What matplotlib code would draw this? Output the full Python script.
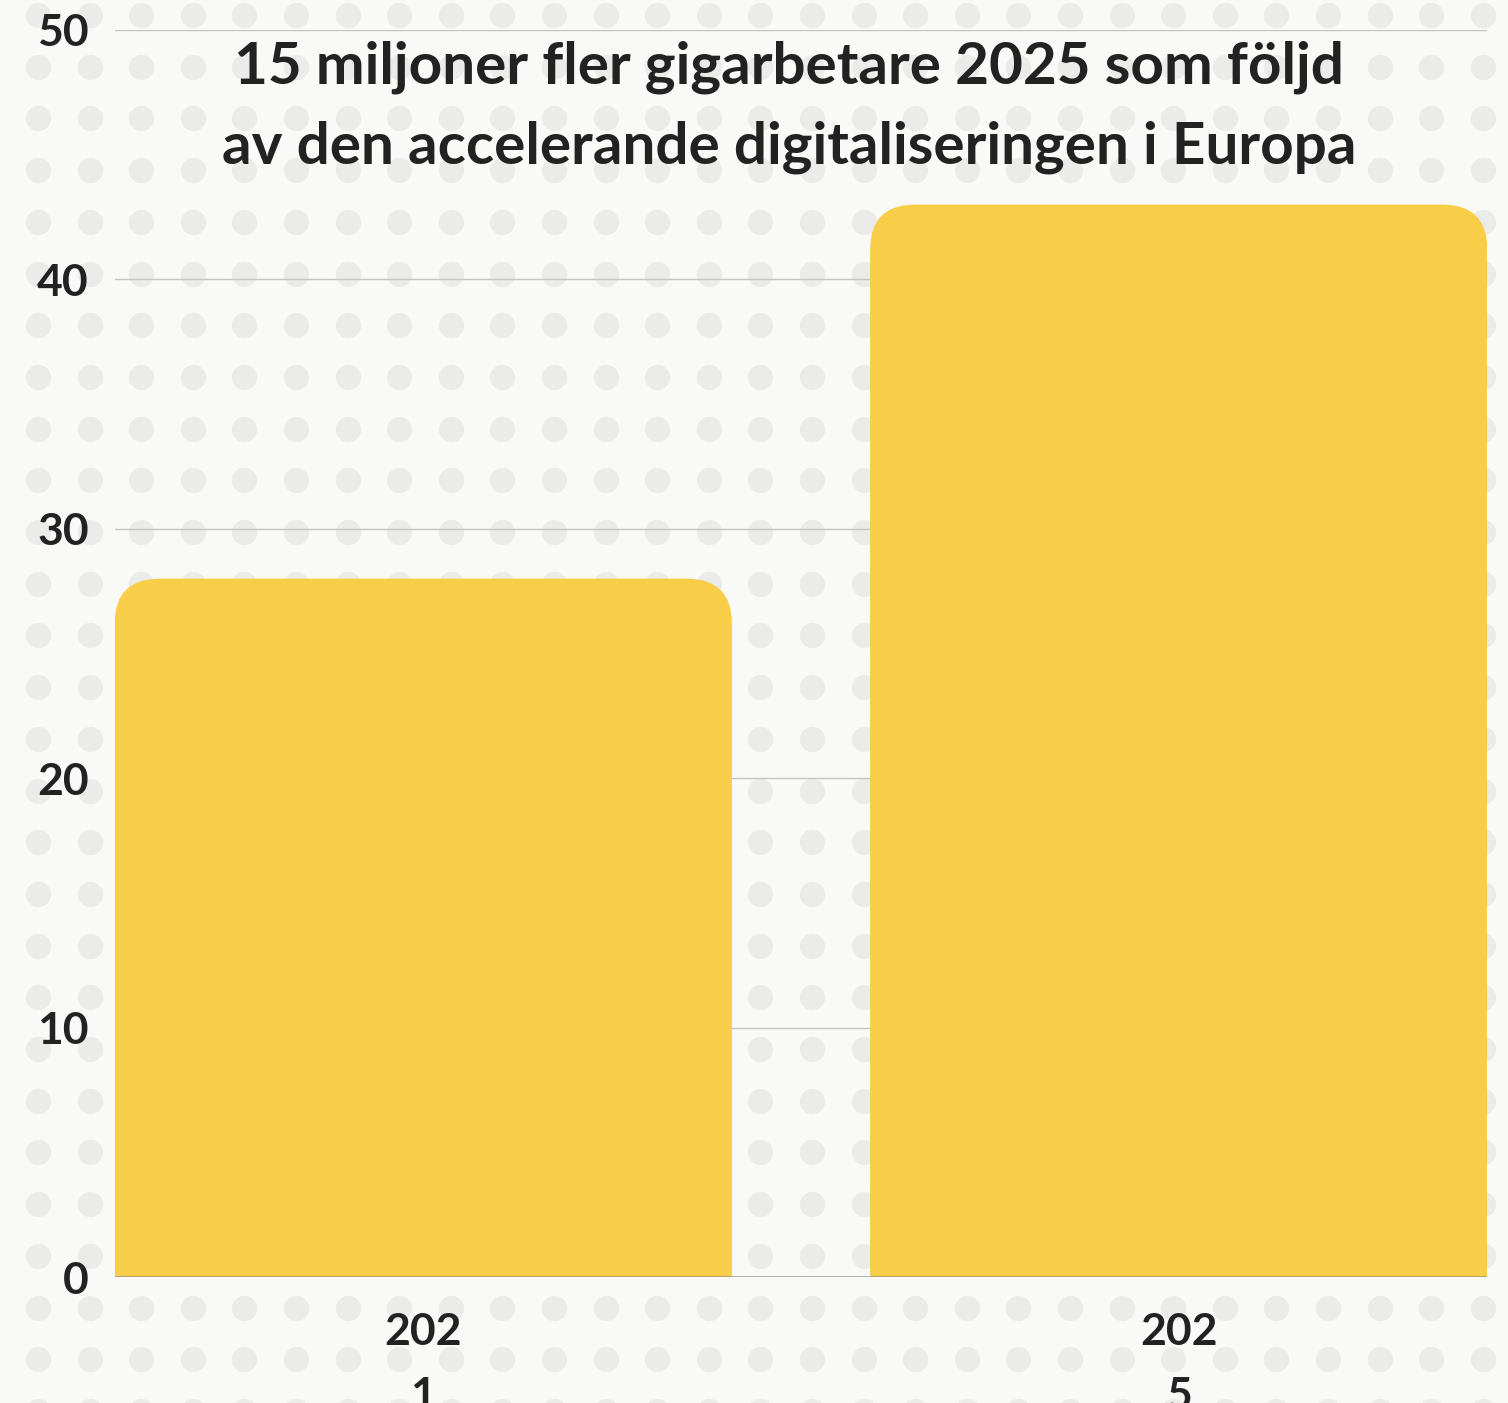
import numpy as np
import matplotlib
matplotlib.use("Agg")
import matplotlib.pyplot as plt
from matplotlib.patches import FancyBboxPatch

# data
years = ["202\n1", "202\n5"]
gig_workers = [28, 43]   # miljoner
y_ticks = [0, 10, 20, 30, 40, 50]
title_lines = ["15 miljoner fler gigarbetare 2025 som följd",
               "av den accelerande digitaliseringen i Europa"]

BG = "#F9FAF8"
DOT = "#EBEBEA"
BAR = "#F8CD48"
TXT = "#222222"

plt.rcParams['font.family'] = ['Lato', 'DejaVu Sans']

W, H = 1508, 1403
fig = plt.figure(figsize=(W / 100, H / 100), dpi=100, facecolor=BG)

# dotted background
bg = fig.add_axes([0, 0, 1, 1], zorder=-1)
bg.set_xlim(0, W)
bg.set_ylim(H, 0)
bg.axis("off")
gx, gy = np.meshgrid(np.arange(38, W + 30, 51.6), np.arange(15, H + 30, 51.7))
bg.scatter(gx.ravel(), gy.ravel(), s=330, color=DOT, linewidths=0)

ax = fig.add_axes([115 / W, (H - 1277) / H, 1372 / W, 1247 / H])
ax.patch.set_alpha(0)

x = np.arange(len(years))
bw = 0.817
bars = ax.bar(x, gig_workers, width=bw, color=BAR)
ax.set_xlim(-0.408, 1.408)
ax.set_ylim(0, 50)

# swap plain bars for ones with rounded tops
px_per_x = 1372 / (1.408 + 0.408)
px_per_y = 1247 / 50
r = 45 / px_per_x
for b in bars:
    b.set_visible(False)
    p = FancyBboxPatch((b.get_x(), -4), b.get_width(), b.get_height() + 4,
                       boxstyle=f"round,pad=0,rounding_size={r}",
                       mutation_aspect=px_per_x / px_per_y,
                       facecolor=BAR, edgecolor="none", zorder=2)
    ax.add_patch(p)

ax.set_yticks(y_ticks)
ax.yaxis.grid(True, color="#C4C4C4", linewidth=1)
ax.set_axisbelow(True)
ax.axhline(0, color="#888888", linewidth=1.2, alpha=0.7, zorder=3)
for s in ax.spines.values():
    s.set_visible(False)
ax.tick_params(axis="y", length=0, pad=19, labelsize=32, labelcolor=TXT)
ax.tick_params(axis="x", length=0, pad=25, labelsize=32, labelcolor=TXT)
ax.set_xticks(x)
ax.set_xticklabels(years, linespacing=1.75)
for lab in ax.get_yticklabels() + ax.get_xticklabels():
    lab.set_fontweight("bold")

fig.text(789 / W, 1 - 67 / H, title_lines[0], ha="center", va="center",
         fontsize=42, color=TXT, fontweight="bold")
fig.text(789 / W, 1 - 147 / H, title_lines[1], ha="center", va="center",
         fontsize=42, color=TXT, fontweight="bold")

fig.savefig("out.png", dpi=100, facecolor=BG)
